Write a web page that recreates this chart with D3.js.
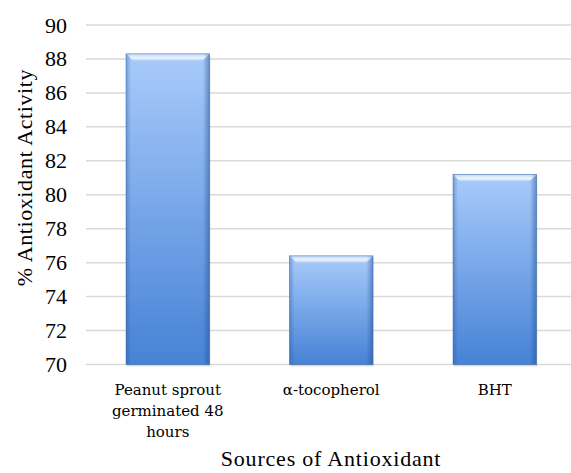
<!DOCTYPE html>
<html><head><meta charset="utf-8">
<script src="https://cdn.jsdelivr.net/npm/d3@7"></script>
<style>body{margin:0;background:#fff}svg{display:block}</style>
</head><body>
<script>
const categories = ["Peanut sprout germinated 48 hours", "α-tocopherol", "BHT"];
const categoryLines = [["Peanut sprout", "germinated 48", "hours"], ["α-tocopherol"], ["BHT"]];
const values = [88.3, 76.4, 81.2];
const yTicks = [70, 72, 74, 76, 78, 80, 82, 84, 86, 88, 90];
const yTitle = "% Antioxidant Activity";
const xTitle = "Sources of Antioxidant";

const SERIF = "'Liberation Serif', 'Times New Roman', serif";
const CAMB = "'DejaVu Serif', serif";
const W = 571, H = 473;
const svg = d3.select("body").append("svg").attr("width", W).attr("height", H);
const defs = svg.append("defs");
const g1 = defs.append("linearGradient").attr("id", "bg").attr("x1", 0).attr("y1", 0).attr("x2", 0).attr("y2", 1);
g1.append("stop").attr("offset", "0%").attr("stop-color", "#a9cbfb");
g1.append("stop").attr("offset", "100%").attr("stop-color", "#4682d6");
const g2 = defs.append("linearGradient").attr("id", "side").attr("x1", 0).attr("y1", 0).attr("x2", 1).attr("y2", 0);
g2.append("stop").attr("offset", "0%").attr("stop-color", "#1f4f92").attr("stop-opacity", 0.35);
g2.append("stop").attr("offset", "6%").attr("stop-color", "#1f4f92").attr("stop-opacity", 0);
g2.append("stop").attr("offset", "92%").attr("stop-color", "#1f4f92").attr("stop-opacity", 0);
g2.append("stop").attr("offset", "100%").attr("stop-color", "#1f4f92").attr("stop-opacity", 0.5);
const g3 = defs.append("linearGradient").attr("id", "hl").attr("x1", 0).attr("y1", 0).attr("x2", 0).attr("y2", 1);
g3.append("stop").attr("offset", "0%").attr("stop-color", "#ffffff").attr("stop-opacity", 0.3);
g3.append("stop").attr("offset", "60%").attr("stop-color", "#ffffff").attr("stop-opacity", 0.8);
g3.append("stop").attr("offset", "100%").attr("stop-color", "#ffffff").attr("stop-opacity", 0.1);

const x = d3.scaleBand().domain(categories).range([86, 576.5]).paddingInner(0.49).paddingOuter(0.245);
const y = d3.scaleLinear().domain([70, 90]).range([364.5, 25]);

svg.append("g").selectAll("line").data(yTicks).join("line")
  .attr("x1", 86).attr("x2", W).attr("y1", d => y(d)).attr("y2", d => y(d))
  .attr("stroke", "#d9d9d9").attr("stroke-width", 1.5);

const yAxis = svg.append("g").attr("transform", "translate(76,0)")
  .call(d3.axisLeft(y).tickValues(yTicks).tickSize(0).tickPadding(0).tickFormat(d3.format("d")));
yAxis.select(".domain").remove();
yAxis.attr("font-family", SERIF).attr("font-size", 22);
yAxis.selectAll("text").style("font-family", SERIF).style("font-size", "22px").attr("fill", "#000").attr("dx", -9);

const bars = svg.append("g").selectAll("g").data(categories).join("g");
bars.append("rect").attr("x", d => x(d) + 1).attr("y", (d, i) => y(values[i]) + 2)
  .attr("width", x.bandwidth()).attr("height", (d, i) => y(70) - y(values[i]))
  .attr("fill", "#000").attr("opacity", 0.12);
bars.append("rect").attr("x", d => x(d)).attr("y", (d, i) => y(values[i]))
  .attr("width", x.bandwidth()).attr("height", (d, i) => y(70) - y(values[i]))
  .attr("fill", "url(#bg)");
bars.append("rect").attr("x", d => x(d)).attr("y", (d, i) => y(values[i]))
  .attr("width", x.bandwidth()).attr("height", (d, i) => y(70) - y(values[i]))
  .attr("fill", "url(#side)");
bars.append("path").attr("d", (d, i) => {
  const x0 = x(d), x1 = x(d) + x.bandwidth(), t = y(values[i]);
  return `M${x0},${t}L${x1},${t}L${x1 - 7},${t + 7}L${x0 + 7},${t + 7}Z`;
}).attr("fill", "url(#hl)");
bars.append("rect").attr("x", d => x(d)).attr("y", (d, i) => y(values[i]))
  .attr("width", x.bandwidth()).attr("height", (d, i) => y(70) - y(values[i]))
  .attr("fill", "none").attr("stroke", "#3a69aa").attr("stroke-width", 0.8).attr("stroke-opacity", 0.7);

const cl = svg.append("g").selectAll("text").data(categories).join("text")
  .attr("x", d => x(d) + x.bandwidth() / 2).attr("y", 395)
  .attr("text-anchor", "middle").style("font-family", CAMB).style("font-size", "15px").attr("fill", "#000");
cl.each(function(d, i) {
  d3.select(this).selectAll("tspan").data(categoryLines[i]).join("tspan")
    .attr("x", x(d) + x.bandwidth() / 2).attr("dy", (t, j) => j === 0 ? 0 : 21).text(t => t);
});

svg.append("text").attr("x", 331).attr("y", 466).attr("text-anchor", "middle")
  .style("font-family", SERIF).style("font-size", "22px").style("letter-spacing", "0.8px").text(xTitle);
svg.append("text").attr("transform", "translate(32,177.5) rotate(-90)").attr("text-anchor", "middle")
  .style("font-family", SERIF).style("font-size", "22px").style("letter-spacing", "0.6px").text(yTitle);
</script>
</body></html>
